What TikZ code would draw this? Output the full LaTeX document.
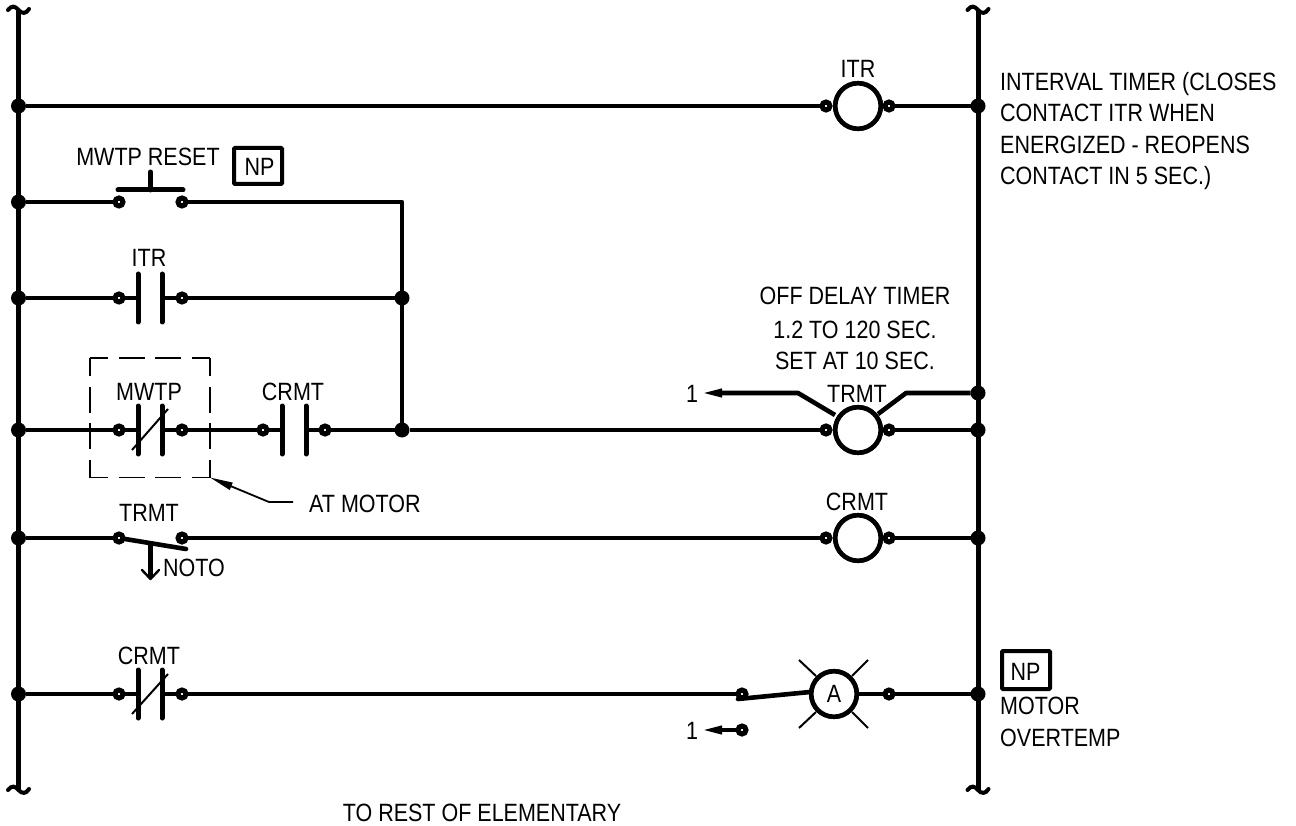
\documentclass[tikz,border=0pt]{standalone}
\usepackage{fontspec}
\setmainfont[FakeStretch=0.86]{Liberation Sans}
\usetikzlibrary{arrows.meta}
\tikzset{
  wire/.style={line width=4.6pt,line join=round},
  bus/.style={line width=5pt},
  plate/.style={line width=5pt,line cap=round},
  thinline/.style={line width=2pt},
  dashline/.style={line width=1.7pt,dash pattern=on 26pt off 10.67pt,dash phase=8pt},
  dotnode/.style={circle,fill=black,inner sep=0pt,minimum size=15pt,outer sep=0pt},
  termnode/.style={circle,draw=black,fill=white,line width=5pt,inner sep=0pt,minimum size=8pt,outer sep=2.5pt},
  coilnode/.style={circle,draw=black,fill=white,line width=4.6pt,inner sep=0pt,minimum size=45.5pt,outer sep=0pt,font=\fontsize{25}{30}\selectfont},
  lbl/.style={inner sep=0pt,anchor=base,font=\fontsize{25}{30}\selectfont},
  lbll/.style={inner sep=0pt,anchor=base west,font=\fontsize{25}{30}\selectfont},
  npbox/.style={draw=black,line width=4pt,rounded corners=1pt,inner sep=0pt,minimum width=48pt,minimum height=36pt},
  tip/.style={-{Triangle[length=23pt,width=7.5pt]}},
  tilde/.style={line width=4pt,line cap=round}
}
\newcommand{\squig}[2]{\draw[tilde] (#1-10.5,#2) .. controls (#1-6.5,#2-5) and (#1-3.5,#2-4) .. (#1,#2) .. controls (#1+3.5,#2+4) and (#1+7.5,#2+4) .. (#1+10.5,#2-1);}
\begin{document}
\begin{tikzpicture}[x=1pt,y=-1pt]
\useasboundingbox (0,0) rectangle (1296,826);
\fill[white] (0,0) rectangle (1296,826);
% bus ends
\coordinate (LT) at (18.5,10); \coordinate (LB) at (18.5,790);
\coordinate (RT) at (978,10);  \coordinate (RB) at (978,790);
\draw[bus] (LT) -- (LB);
\draw[bus] (RT) -- (RB);
\squig{18.5}{10}\squig{18.5}{790}\squig{978}{10}\squig{978}{790}
% bus dots
\foreach \n/\yy in {1/106,2/202,3/298,4/430,5/538,6/694}
  \node[dotnode] (L\n) at (18.5,\yy) {};
\foreach \n/\yy in {1/106,4/430,5/538,6/694,7/393}
  \node[dotnode] (R\n) at (978,\yy) {};
\node[dotnode] (J3) at (402,298) {};
\node[dotnode] (J4) at (402,430) {};
\coordinate (J2) at (402,202);
% terminals and coils
\node[coilnode] (C1) at (858,106) {};
\node[coilnode] (C4) at (858,430) {};
\node[coilnode] (C5) at (858,538) {};
\node[coilnode] (C6) at (834,694) {A};
\foreach \n/\xx/\yy in {a1/826/106,b1/889/106,a2/119/202,b2/182/202,a3/119/298,b3/182/298,a4/119/430,b4/182/430,c4/263/430,d4/325/430,e4/826/430,f4/889/430,a5/119/538,b5/182/538,e5/826/538,f5/889/538,a6/119/694,b6/182/694,c6/742/694,d6/742/730,f6/889/694}
  \coordinate (P\n) at (\xx,\yy);
% wires
\draw[wire] (L1) -- (Pa1);
\draw[wire] (Pb1) -- (R1);
\draw[wire] (L2) -- (Pa2);
\draw[wire] (Pb2) -- (J2) -- (J4);
\draw[wire] (L3) -- (Pa3);
\draw[wire] (Pb3) -- (J3);
\draw[wire] (L4) -- (Pa4);
\draw[wire] (Pb4) -- (Pc4);
\draw[wire] (Pd4) -- (J4);
\draw[wire] (J4) -- (Pe4);
\draw[wire] (Pf4) -- (R4);
\draw[wire] (L5) -- (Pa5);
\draw[wire] (Pb5) -- (Pe5);
\draw[wire] (Pf5) -- (R5);
\draw[wire] (L6) -- (Pa6);
\draw[wire] (Pb6) -- (Pc6);
\draw[wire] (C6) -- (Pf6) -- (R6);
% contact stubs
\foreach \a/\b/\yy in {119/138/298,162/182/298,119/138/430,162/182/430,263/282/430,306/325/430,119/138/694,162/182/694}
  \draw[wire] (\a,\yy) -- (\b,\yy);
% contact plates
\foreach \xx/\yy in {138/298,162/298,138/430,162/430,282/430,306/430,138/694,162/694}
  \draw[plate] (\xx,\yy-24) -- (\xx,\yy+24);
% normally closed slashes
\draw[thinline] (132,450) -- (168,409);
\draw[thinline] (132,714) -- (168,674);
% push button
\draw[plate] (118,190) -- (183,190);
\draw[plate] (150.5,172) -- (150.5,190);
% NO timed contact
\draw[wire,line cap=round] (Pa5) -- (186,549);
\draw[wire] (150.5,544) -- (150.5,578);
\draw[line width=2.4pt,line cap=round,line join=round] (142,570) -- (150.5,579) -- (159,570);
% terminals
\foreach \n in {a1,b1,a2,b2,a3,b3,a4,b4,c4,d4,e4,f4,a5,b5,e5,f5,a6,b6,c6,d6,f6}
  \node[termnode] (T\n) at (P\n) {};
% coils back on top of terminals
\node[coilnode] at (858,106) {};
\node[coilnode] at (858,430) {};
\node[coilnode] at (858,538) {};
% lamp blade and rays
\draw[wire,line cap=round] (738,699) -- (810,692);
\node[coilnode] at (834,694) {A};
\draw[thinline] (799,660) -- (816,676);
\draw[thinline] (868,660) -- (852,676);
\draw[thinline] (799,728) -- (816,712);
\draw[thinline] (868,728) -- (852,712);
% timer contact leads
\coordinate (Q1) at (798,393); \coordinate (Q2) at (906,393);
\coordinate (A1) at (699,393); \coordinate (A2) at (699,730);
\draw[wire] (R7) -- (Q2) -- (878,414);
\draw[wire,tip] (835,415) -- (Q1) -- (A1);
\draw[wire,tip] (Td6) -- (A2);
% dashed enclosure
\coordinate (D1) at (90,358); \coordinate (D2) at (210,358);
\coordinate (D3) at (210,477.5); \coordinate (D4) at (90,477.5);
\draw[dashline] (D1) -- (D2);
\draw[dashline] (D1) -- (D4);
\draw[dashline] (D2) -- (D3);
\draw[dashline] (D4) -- (D3);
% leader
\node[lbll] (atm) at (309,512) {AT MOTOR};
\coordinate (Ld) at (293,502);
\coordinate (Lt) at (210,477.5);
\draw[line width=1.8pt,tip] (Ld) -- (269,502) -- (Lt);
% labels
\node[lbl] (l1) at (858,77.5) {ITR};
\node[lbl] (l2) at (148,166) {MWTP RESET};
\node[npbox] (np1) at (258,166) {};
\node[lbl] at (259.5,175.5) {NP};
\node[lbl] (l3) at (149,267) {ITR};
\node[lbl] (l4) at (149,400) {MWTP};
\node[lbl] (l5) at (293,400) {CRMT};
\node[lbl] (l6) at (149,521) {TRMT};
\node[lbll] (l7) at (163,576) {NOTO};
\node[lbl] (l8) at (149,664) {CRMT};
\node[lbl] (l9) at (857,402) {TRMT};
\node[lbl] (l10) at (857,510) {CRMT};
\node[lbl] (n1) at (692,402) {1};
\node[lbl] (n2) at (692,739) {1};
\node[lbl] (o1) at (855,305) {OFF DELAY TIMER};
\node[lbl] (o2) at (855,338) {1.2 TO 120 SEC.};
\node[lbl] (o3) at (855,369) {SET AT 10 SEC.};
\node[lbll] (i1) at (1000,91) {INTERVAL TIMER (CLOSES};
\node[lbll] (i2) at (1000,122) {CONTACT ITR WHEN};
\node[lbll] (i3) at (1000,154) {ENERGIZED - REOPENS};
\node[lbll] (i4) at (1000,185) {CONTACT IN 5 SEC.)};
\node[npbox,minimum height=38pt] (np2) at (1026,670) {};
\node[lbl] at (1025.5,680) {NP};
\node[lbll] (m1) at (1000,714) {MOTOR};
\node[lbll] (m2) at (1000,746) {OVERTEMP};
\node[lbl] (r1) at (482,821) {TO REST OF ELEMENTARY};
\end{tikzpicture}
\end{document}
